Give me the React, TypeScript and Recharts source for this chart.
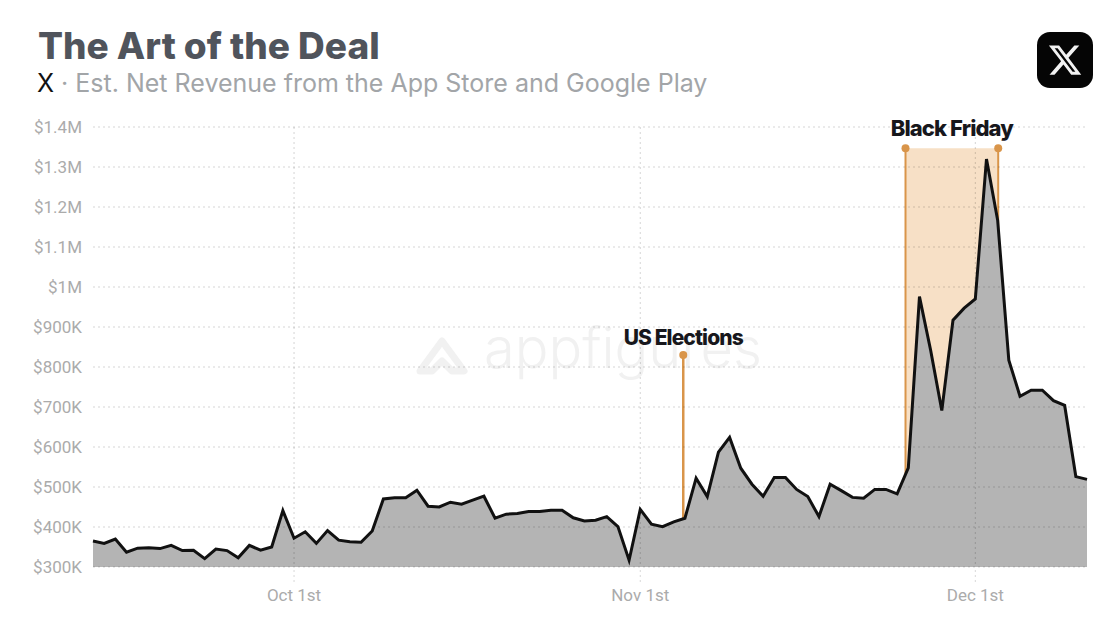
import {
  ComposedChart,
  Area,
  XAxis,
  YAxis,
  CartesianGrid,
  ReferenceArea,
  ReferenceLine,
  ReferenceDot,
  Label,
} from "recharts";

// net revenue per day in $K, Sep 13th to Dec 11th
const revenue = [
  365, 359, 370, 337, 347, 348, 346, 354, 341, 342, 321, 345, 341, 323, 354, 342, 350, 441,
  372, 388, 359, 391, 367, 363, 362, 390, 470, 473, 473, 492, 452, 450, 462, 457, 467, 477,
  422, 432, 434, 439, 439, 442, 442, 423, 415, 417, 426, 401, 317, 444, 407, 401, 413, 422,
  522, 476, 587, 624, 547, 507, 477, 524, 524, 494, 476, 426, 507, 491, 474, 472, 494, 494,
  483, 548, 976, 842, 691, 917, 947, 970, 1320, 1167, 817, 727, 742, 742, 716, 704, 526, 519,
];

const yTicks = [300, 400, 500, 600, 700, 800, 900, 1000, 1100, 1200, 1300, 1400];
const xTicks = [18, 49, 79];
const xLabels = ["Oct 1st", "Nov 1st", "Dec 1st"];

const electionsDay = 52.85;
const electionsTop = 830;
const fridayStart = 72.75;
const fridayEnd = 81.05;
const fridayTop = 1347;

const data = revenue.map((value, day) => ({ day, value }));

const orange = "#d9954a";
const font = "Inter, sans-serif";

const formatMoney = (v: number) => {
  if (v >= 1000) return `$${v / 1000}M`;
  return `$${v}K`;
};

const noteStyle = {
  fontFamily: font,
  fontWeight: 800,
  fontSize: 22,
  letterSpacing: -0.9,
  fill: "#17171c",
};

export default function App() {
  return (
    <div
      style={{
        position: "absolute",
        left: 0,
        top: 0,
        width: 1120,
        height: 618,
        overflow: "hidden",
        background: "#fff",
        fontFamily: font,
      }}
    >
      <div
        style={{
          position: "absolute",
          left: 38,
          top: 24,
          fontSize: 37,
          lineHeight: "44px",
          fontWeight: 800,
          color: "#50545c",
          whiteSpace: "nowrap",
        }}
      >
        The Art of the Deal
      </div>
      <div
        style={{
          position: "absolute",
          left: 37,
          top: 67,
          fontSize: 25,
          lineHeight: "32px",
          color: "#a2a5a8",
          whiteSpace: "nowrap",
        }}
      >
        <span style={{ color: "#111" }}>X</span> · Est. Net Revenue from the App Store and Google Play
      </div>

      {/* logo top right */}
      <svg
        width={58}
        height={58}
        viewBox="0 0 58 58"
        style={{ position: "absolute", left: 1036, top: 31 }}
      >
        <rect x={1} y={1} width={56} height={56} rx={13} fill="#050505" />
        <path
          transform="translate(11 11) scale(1.5)"
          fill="#f2f2f2"
          d="M18.244 2.25h3.308l-7.227 8.26 8.502 11.24H16.17l-5.214-6.817L4.99 21.75H1.68l7.73-8.835L1.254 2.25H8.08l4.713 6.231zm-1.161 17.52h1.833L7.084 4.126H5.117z"
        />
      </svg>

      {/* watermark */}
      <svg
        width={370}
        height={90}
        style={{ position: "absolute", left: 412, top: 315 }}
      >
        <path
          d="M8 56 L30 26 L52 56 L40 56 L30 46 L20 56 Z"
          fill="none"
          stroke="#f1f1f1"
          strokeWidth={7}
          strokeLinejoin="round"
        />
        <text x={72} y={53} fontFamily={font} fontSize={56} fontWeight={300} fill="#f1f1f1">
          appfigures
        </text>
      </svg>

      <div style={{ position: "absolute", left: 0, top: 0 }}>
        <ComposedChart
          width={1120}
          height={618}
          data={data}
          margin={{ top: 127, right: 33, bottom: 0, left: 33 }}
          style={{ background: "transparent" }}
        >
          <ReferenceArea
            x1={fridayStart}
            x2={fridayEnd}
            y1={300}
            y2={fridayTop}
            fill="#f7e0c6"
            fillOpacity={1}
            stroke="none"
            zIndex={50}
          >
            <Label value="Black Friday" position="top" offset={12} style={noteStyle} />
          </ReferenceArea>
          <ReferenceLine
            segment={[
              { x: fridayStart, y: 300 },
              { x: fridayStart, y: fridayTop },
            ]}
            stroke={orange}
            strokeWidth={2}
            zIndex={60}
          />
          <ReferenceLine
            segment={[
              { x: fridayEnd, y: 300 },
              { x: fridayEnd, y: fridayTop },
            ]}
            stroke={orange}
            strokeWidth={2}
            zIndex={60}
          />
          <ReferenceLine
            segment={[
              { x: electionsDay, y: 300 },
              { x: electionsDay, y: electionsTop },
            ]}
            stroke={orange}
            strokeWidth={2.5}
            zIndex={60}
          />
          <ReferenceDot x={fridayStart} y={fridayTop} r={4} fill={orange} stroke="none" zIndex={60} />
          <ReferenceDot x={fridayEnd} y={fridayTop} r={4} fill={orange} stroke="none" zIndex={60} />
          <ReferenceDot x={electionsDay} y={electionsTop} r={4} fill={orange} stroke="none" zIndex={60}>
            <Label
              value="US Elections"
              position="top"
              offset={6}
              style={{ ...noteStyle, fontSize: 21 }}
            />
          </ReferenceDot>

          <Area
            type="linear"
            dataKey="value"
            stroke="#111"
            strokeWidth={3}
            fill="#b4b4b4"
            fillOpacity={1}
            dot={false}
            activeDot={false}
            isAnimationActive={false}
          />
          <CartesianGrid
            stroke="rgba(0,0,0,0.17)"
            strokeDasharray="2 3"
            verticalValues={xTicks}
            horizontalValues={yTicks}
            zIndex={150}
          />
          <XAxis
            dataKey="day"
            type="number"
            height={51}
            domain={[0, revenue.length - 1]}
            ticks={xTicks}
            tickFormatter={(v: number) => xLabels[xTicks.indexOf(v)]}
            axisLine={false}
            tickLine={{ stroke: "#d8d8d8", strokeDasharray: "2 3" }}
            tickSize={15}
            tickMargin={7}
            tick={{ fontFamily: "Roboto, sans-serif", fontSize: 17, fill: "#ababab" }}
          />
          <YAxis
            width={60}
            domain={[300, 1400]}
            ticks={yTicks}
            tickFormatter={formatMoney}
            axisLine={false}
            tickLine={false}
            tickMargin={5}
            tick={{ fontFamily: "Roboto, sans-serif", fontSize: 17, fill: "#ababab" }}
          />
        </ComposedChart>
      </div>
    </div>
  );
}
